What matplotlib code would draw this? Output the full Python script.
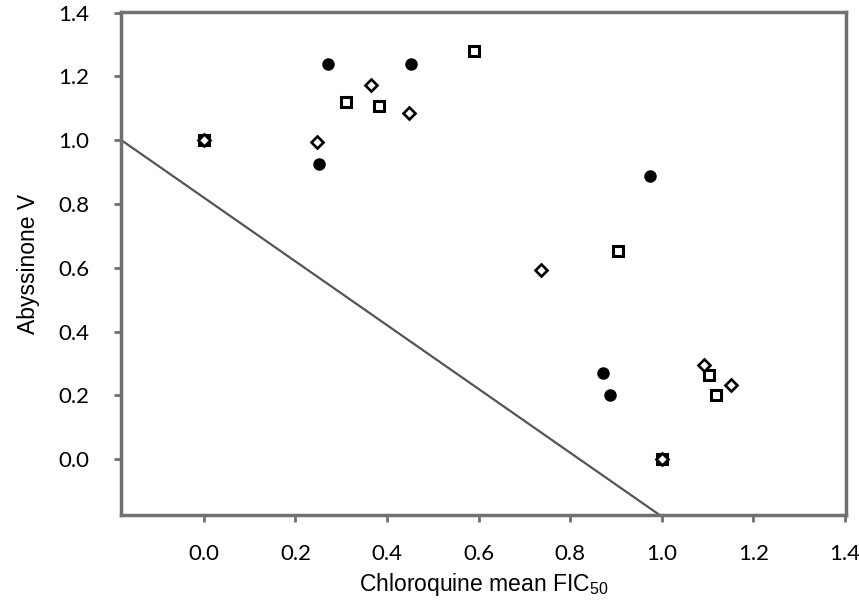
import matplotlib
matplotlib.use("Agg")
import matplotlib.pyplot as plt

plt.rcParams["mathtext.fontset"] = "custom"
plt.rcParams["mathtext.rm"] = "Liberation Sans"

# Data
circle_x = [0.27, 0.453, 0.251, 0.974, 0.872, 0.886]
circle_y = [1.24, 1.24, 0.925, 0.889, 0.271, 0.202]

diamond_x = [0.0, 0.365, 0.448, 0.247, 0.736, 1.092, 1.151, 1.0]
diamond_y = [1.0, 1.173, 1.085, 0.993, 0.593, 0.294, 0.234, 0.0]

square_x = [0.0, 0.59, 0.311, 0.383, 0.905, 1.103, 1.119, 1.0]
square_y = [1.0, 1.28, 1.121, 1.107, 0.654, 0.265, 0.2, 0.0]

line_x = [-0.18, 0.995]
line_y = [1.0, -0.175]

xticks = [0.0, 0.2, 0.4, 0.6, 0.8, 1.0, 1.2, 1.4]
yticks = [0.0, 0.2, 0.4, 0.6, 0.8, 1.0, 1.2, 1.4]

fig = plt.figure(figsize=(8.59, 6.04), dpi=100)
ax = fig.add_axes([121/859, 1-515/604, (846-121)/859, (515-12)/604])

ax.plot(line_x, line_y, color="#555555", lw=1.6, zorder=2)
ax.plot(square_x, square_y, ls="none", marker="s", ms=7.5, mfc="white",
        mec="black", mew=2.2, zorder=3)
ax.plot(diamond_x, diamond_y, ls="none", marker="D", ms=6.5, mfc="white",
        mec="black", mew=1.9, zorder=4)
ax.plot(circle_x, circle_y, ls="none", marker="o", ms=8, mfc="black",
        mec="black", zorder=5)

ax.set_xlim(-0.181, 1.402)
ax.set_ylim(-0.175, 1.402)
ax.set_xticks(xticks)
ax.set_yticks(yticks)
ax.set_xticklabels([f"{v:.1f}" for v in xticks])
ax.set_yticklabels([f"{v:.1f}" for v in yticks])

for s in ax.spines.values():
    s.set_color("#707070")
    s.set_linewidth(2.5)

ax.tick_params(axis="both", direction="out", length=5, width=2,
               color="#707070", labelsize=16, labelcolor="black")
ax.tick_params(axis="x", pad=16)
ax.tick_params(axis="y", pad=18)
for lbl in ax.get_xticklabels() + ax.get_yticklabels():
    lbl.set_family(["Lato", "DejaVu Sans"])

ax.set_xlabel(r"Chloroquine mean FIC$\mathregular{_{50}}$", fontsize=16.5,
              family=["Liberation Sans", "DejaVu Sans"], labelpad=5)
ax.set_ylabel("Abyssinone V", fontsize=16.5,
              family=["Liberation Sans", "DejaVu Sans"], labelpad=13)

fig.savefig("out.png", dpi=100)
